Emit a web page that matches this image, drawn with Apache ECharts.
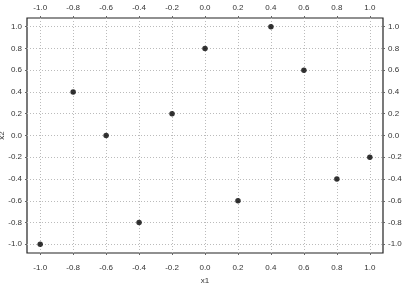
<!DOCTYPE html>
<html><head><meta charset="utf-8">
<script src="https://cdn.jsdelivr.net/npm/echarts@6/dist/echarts.min.js"></script>
<style>html,body{margin:0;padding:0;background:#fff}#c{width:407px;height:289px}</style>
</head><body><div id="c"></div>
<script>
const x1 = [-1.0, -0.8, -0.6, -0.4, -0.2, 0.0, 0.2, 0.4, 0.6, 0.8, 1.0];
const x2 = [-1.0, 0.4, 0.0, -0.8, 0.2, 0.8, -0.6, 1.0, 0.6, -0.4, -0.2];
const ticks = [-1.0, -0.8, -0.6, -0.4, -0.2, 0.0, 0.2, 0.4, 0.6, 0.8, 1.0];

const fmt = v => (Math.abs(v) < 1e-9 ? 0 : v).toFixed(1);
const lab = (margin) => ({customValues: ticks, formatter: fmt, color: '#333', fontSize: 8, fontFamily: 'Liberation Sans', margin: margin});
const tk = {show: true, customValues: ticks, length: 2, lineStyle: {color: '#666', width: 1}};
const sl = {show: true, lineStyle: {color: '#bbb', type: [1, 2], width: 1}};
const base = {type: 'value', min: -1.08, max: 1.08, axisLine: {show: false, onZero: false}, axisTick: tk, splitLine: sl};

const chart = echarts.init(document.getElementById('c'), null, {renderer: 'canvas'});
chart.setOption({
  animation: false,
  grid: {left: 27, top: 18, right: 24, bottom: 36, containLabel: false, outerBoundsMode: 'none', show: true, borderColor: '#222', borderWidth: 1.2, backgroundColor: 'transparent'},
  xAxis: [
    Object.assign({}, base, {position: 'bottom', name: 'x1', nameLocation: 'middle', nameGap: 24, nameMoveOverlap: false,
      nameTextStyle: {color: '#333', fontSize: 8, fontFamily: 'Liberation Sans'}, axisLabel: lab(11)}),
    Object.assign({}, base, {position: 'top', axisLabel: lab(6), splitLine: {show: false}})
  ],
  yAxis: [
    Object.assign({}, base, {position: 'left', name: 'x2', nameLocation: 'middle', nameGap: 21, nameMoveOverlap: false,
      nameTextStyle: {color: '#333', fontSize: 8, fontFamily: 'Liberation Sans'}, axisLabel: lab(5)}),
    Object.assign({}, base, {position: 'right', axisLabel: lab(5), splitLine: {show: false}})
  ],
  series: [{
    type: 'scatter', xAxisIndex: 0, yAxisIndex: 0,
    data: x1.map((v, i) => [v, x2[i]]),
    symbol: 'circle', symbolSize: 5.5,
    itemStyle: {color: '#000'}
  }]
});
</script></body></html>
